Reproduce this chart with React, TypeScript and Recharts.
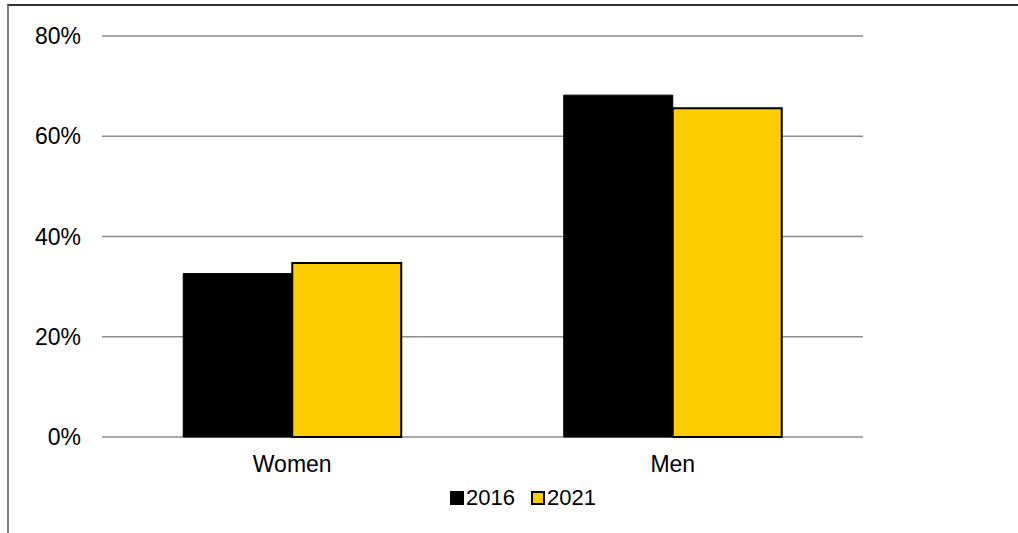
import React from 'react';
import { BarChart, Bar, XAxis, YAxis, CartesianGrid, Legend } from 'recharts';

const categories = ['Women', 'Men'];
const values2016 = [32.6, 68.2];
const values2021 = [34.7, 65.6];
const yTicks = [0, 20, 40, 60, 80];

const COLORS = { y2016: '#000000', y2021: '#FFCC00' };
const FONT = 'Arial, "Liberation Sans", sans-serif';

const data = categories.map((name, i) => ({
  name,
  y2016: values2016[i],
  y2021: values2021[i],
}));

const LegendContent = (props: any) => {
  const items = props.payload || [];
  return (
    <div style={{ display: 'flex', alignItems: 'center', marginLeft: 450, height: 22, fontFamily: FONT, fontSize: 22, color: '#000' }}>
      {items.map((it: any, i: number) => (
        <div key={i} style={{ display: 'flex', alignItems: 'center', marginRight: 16 }}>
          <span
            style={{
              display: 'inline-block',
              width: 10,
              height: 10,
              background: it.color,
              border: '2px solid #000',
              marginRight: 2,
            }}
          />
          <span style={{ lineHeight: '22px' }}>{it.value}</span>
        </div>
      ))}
    </div>
  );
};

export default function App() {
  return (
    <div style={{ position: 'absolute', left: 0, top: 0, width: 1018, height: 533, background: '#fff' }}>
      <div
        style={{
          position: 'absolute',
          left: 7,
          top: 4,
          width: 1011,
          height: 529,
          borderLeft: '2px solid #808080',
          borderTop: '2px solid #333',
          boxSizing: 'border-box',
        }}
      />
      <div style={{ position: 'absolute', left: 0, top: 0 }}>
        <BarChart
          width={1018}
          height={533}
          data={data}
          margin={{ top: 36, right: 155, left: 0, bottom: 34 }}
          barCategoryGap="21.35%"
          barGap={0}
        >
          <CartesianGrid vertical={false} stroke="#8c8c8c" strokeWidth={1.5} />
          <XAxis
            dataKey="name"
            axisLine={false}
            tickLine={false}
            tickSize={0}
            tickMargin={19}
            height={40}
            tick={{ fill: '#000', fontSize: 23, fontFamily: FONT }}
          />
          <YAxis
            width={102}
            domain={[0, 80]}
            ticks={yTicks}
            axisLine={false}
            tickLine={false}
            tickSize={0}
            tickMargin={21}
            tickFormatter={(v: number) => `${v}%`}
            tick={{ fill: '#000', fontSize: 23, fontFamily: FONT }}
          />
          <Legend
            content={<LegendContent />}
            wrapperStyle={{ position: 'absolute', top: 487, left: 0, width: 1018, height: 22 }}
          />
          <Bar dataKey="y2016" name="2016" fill={COLORS.y2016} stroke="#000" strokeWidth={1} isAnimationActive={false} />
          <Bar dataKey="y2021" name="2021" fill={COLORS.y2021} stroke="#000" strokeWidth={2} isAnimationActive={false} />
        </BarChart>
      </div>
    </div>
  );
}
